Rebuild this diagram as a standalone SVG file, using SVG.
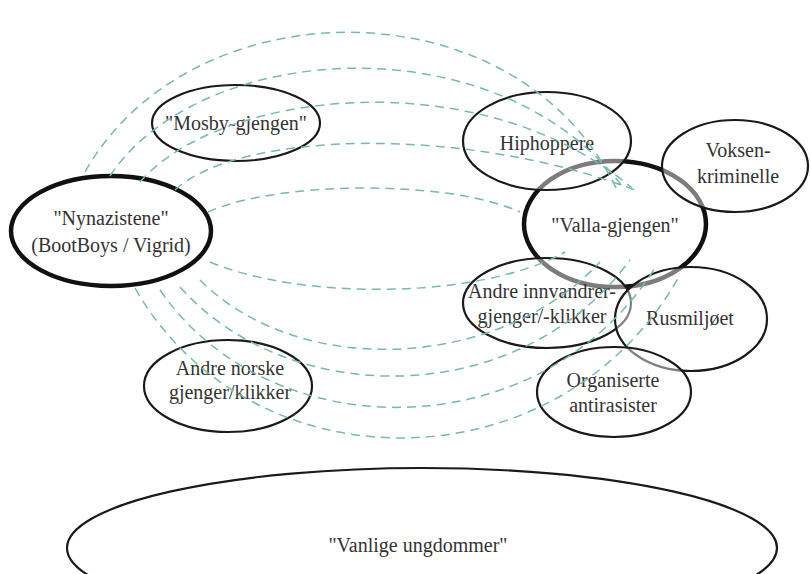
<svg xmlns="http://www.w3.org/2000/svg" width="811" height="574" viewBox="0 0 811 574">
<style>
.n{fill:#fff;fill-opacity:0.45;stroke:#1a1a1a;stroke-width:2.2}
.k{fill:#fff;fill-opacity:0.45;stroke:#111;stroke-width:4.5}
.c path{fill:none;stroke:#74bbaa;stroke-width:1.5;stroke-dasharray:9 6}
</style>
<rect width="811" height="574" fill="#fff"/>
<g font-family="Liberation Serif, DejaVu Serif, serif" font-size="20" fill="#333" text-anchor="middle">
<g id="vanlige"><ellipse class="n" cx="422" cy="548" rx="355" ry="80"/><text x="418" y="552">"Vanlige ungdommer"</text></g>
<g id="nynazistene"><ellipse class="k" cx="111" cy="231" rx="100" ry="55"/><text x="111" y="225">"Nynazistene"</text><text x="111" y="252">(BootBoys / Vigrid)</text></g>
<g id="mosby"><ellipse class="n" cx="236" cy="123" rx="84" ry="38"/><text x="236" y="130">"Mosby-gjengen"</text></g>
<g id="andre-norske"><ellipse class="n" cx="228" cy="386" rx="84" ry="46"/><text x="230" y="375">Andre norske</text><text x="230" y="399">gjenger/klikker</text></g>
<g id="valla"><ellipse class="k" cx="615" cy="224" rx="91" ry="63"/><text x="615" y="232">"Valla-gjengen"</text></g>
<g id="hiphoppere"><ellipse class="n" cx="547" cy="141" rx="84" ry="49"/><text x="547" y="150">Hiphoppere</text></g>
<g id="voksen"><ellipse class="n" cx="735" cy="166" rx="73" ry="46"/><text x="738" y="157">Voksen-</text><text x="738" y="183">kriminelle</text></g>
<g id="andre-innvandrer"><ellipse class="n" cx="547" cy="303" rx="84" ry="45"/><text x="542" y="298">Andre innvandrer-</text><text x="542" y="323">gjenger/-klikker</text></g>
<g id="rusmiljoet"><ellipse class="n" cx="691" cy="319" rx="76" ry="52"/><text x="690" y="325">Rusmiljøet</text></g>
<g id="organiserte"><ellipse class="n" cx="614" cy="392" rx="77" ry="45"/><text x="613" y="387">Organiserte</text><text x="613" y="412">antirasister</text></g>
</g>
<g id="connectors" class="c">
<path d="M85 172 C190 -15 520 -20 618 192"/>
<path d="M110 176 C200 40 500 20 625 190"/>
<path d="M140 182 C220 90 480 60 632 188"/>
<path d="M175 190 C240 130 470 125 640 192"/>
<path d="M208 212 C280 180 450 180 520 212"/>
<path d="M210 262 C300 300 480 300 565 252"/>
<path d="M200 280 C300 380 500 370 600 262"/>
<path d="M180 287 C290 410 520 410 630 260"/>
<path d="M160 290 C270 450 540 450 655 268"/>
<path d="M135 288 C250 490 560 490 680 275"/>
</g>
</svg>
